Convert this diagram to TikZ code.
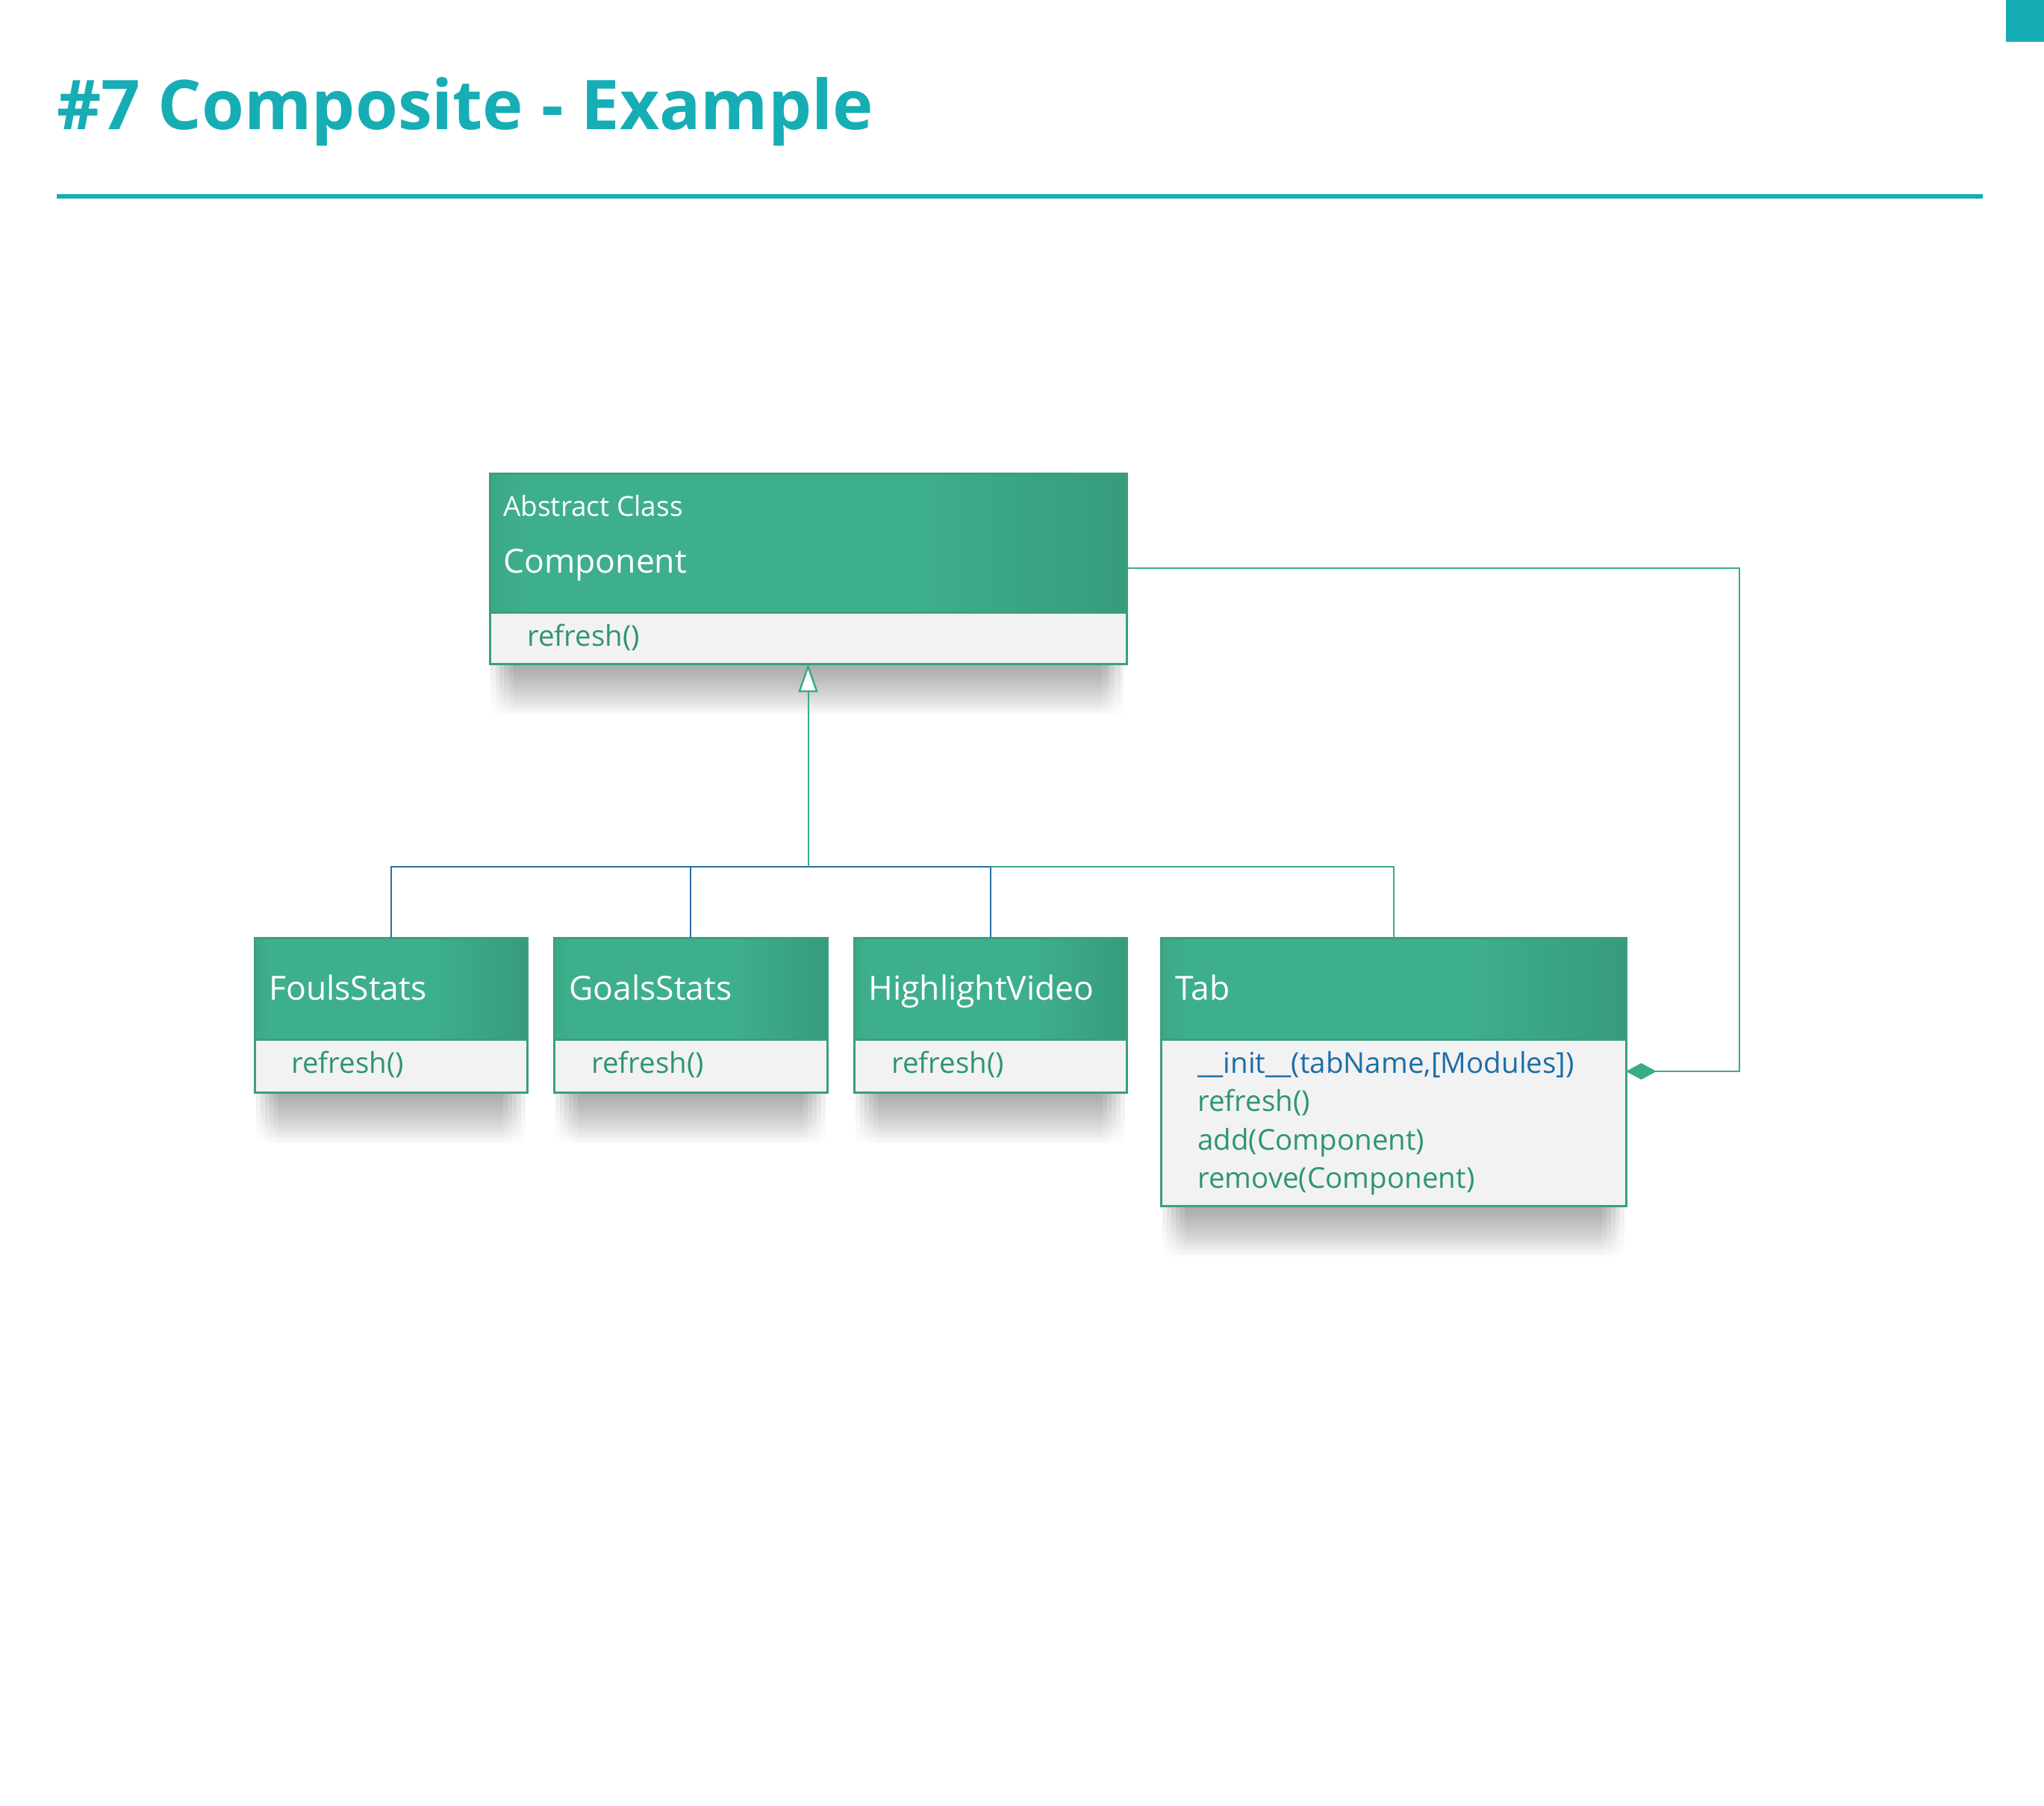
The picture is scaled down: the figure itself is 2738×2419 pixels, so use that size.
\documentclass[tikz,border=0pt]{standalone}
\usepackage{fontspec}
\setmainfont{Open Sans}
\usetikzlibrary{arrows.meta,calc,fadings}

\definecolor{titleteal}{HTML}{16ADB5}
\definecolor{headgreen}{HTML}{3EAF8C}
\definecolor{headedge}{HTML}{3BA886}
\definecolor{headdark}{HTML}{369B7C}
\definecolor{boxline}{HTML}{3A9F80}
\definecolor{bodygray}{HTML}{F2F2F2}
\definecolor{methgreen}{HTML}{2D9573}
\definecolor{methblue}{HTML}{1B6EA8}
\definecolor{linkgreen}{HTML}{3AAB88}
\definecolor{linkblue}{HTML}{2A6DA6}
\definecolor{shadowgray}{HTML}{5A5A5A}

% header fill: flat green, gently darker towards the right edge
% (the filled path spans 25bp..75bp of the shading)
\pgfdeclarehorizontalshading{headshade}{100bp}{%
  color(0bp)=(headedge); color(25bp)=(headedge); color(28bp)=(headgreen);
  color(58bp)=(headgreen); color(75bp)=(headdark); color(100bp)=(headdark)}

% vertical fade used for the soft drop shadows under the class boxes
\tikzfading[name=shadowfade, top color=transparent!15, bottom color=transparent!100]

% soft shadow under a box: left x, right x, bottom y
\newcommand\dropshadow[3]{%
  \foreach \k in {0,...,5}{%
    \fill[shadowgray, opacity=0.13, path fading=shadowfade]
      ({#1+2+\k*6},#3) rectangle ({#2-2-\k*6},{#3+68});
  }%
}

\tikzset{
  classhead/.style={rectangle, anchor=north west, inner sep=0pt, outer sep=0pt,
    draw=boxline, line width=3pt, shading=headshade},
  classbody/.style={rectangle, anchor=north west, inner sep=0pt, outer sep=0pt,
    draw=boxline, line width=3pt, fill=bodygray},
  classname/.style={anchor=base west, inner sep=0pt, text=white,
    font=\fontsize{44.5}{54}\selectfont},
  stereotype/.style={anchor=base west, inner sep=0pt, text=white,
    font=\fontsize{37}{44}\selectfont},
  method/.style={anchor=base west, inner sep=0pt, text=methgreen,
    font=\fontsize{38.5}{47}\selectfont},
  greenlink/.style={draw=linkgreen, line width=2pt},
  bluelink/.style={draw=linkblue, line width=2pt},
}

\begin{document}
\begin{tikzpicture}[x=1pt,y=-1pt]
\useasboundingbox (0,0) rectangle (2738,2419);
\fill[white] (0,0) rectangle (2738,2419);

% heading
\node[anchor=base west, inner sep=0pt, text=titleteal,
      font=\fontsize{92}{110}\selectfont\bfseries] (title) at (76,174) {\#7 Composite - Example};
\draw[titleteal, line width=6pt] (76,263) -- (2656,263);
\fill[titleteal] (2687,0) rectangle (2738,56);

% shadows
\dropshadow{656}{1509}{889}
\dropshadow{341}{706}{1463}
\dropshadow{742}{1108}{1463}
\dropshadow{1144}{1509}{1463}
\dropshadow{1555}{2178}{1615}

% Component
\node[classhead, minimum width=853pt, minimum height=186pt] (comp-head) at (656,634) {};
\node[classbody, minimum width=853pt, minimum height=69pt] (comp-body) at (656,820) {};
\node[stereotype] (comp-stereo) at (674,691) {Abstract Class};
\node[classname] (comp-name) at (674,767) {Component};
\node[method] (comp-m1) at (706,865) {refresh()};

% FoulsStats
\node[classhead, minimum width=365pt, minimum height=136pt] (fouls-head) at (341,1256) {};
\node[classbody, minimum width=365pt, minimum height=71pt] (fouls-body) at (341,1392) {};
\node[classname] (fouls-name) at (360,1339) {FoulsStats};
\node[method] (fouls-m1) at (390,1437) {refresh()};

% GoalsStats
\node[classhead, minimum width=366pt, minimum height=136pt] (goals-head) at (742,1256) {};
\node[classbody, minimum width=366pt, minimum height=71pt] (goals-body) at (742,1392) {};
\node[classname] (goals-name) at (762,1339) {GoalsStats};
\node[method] (goals-m1) at (792,1437) {refresh()};

% HighlightVideo
\node[classhead, minimum width=365pt, minimum height=136pt] (hl-head) at (1144,1256) {};
\node[classbody, minimum width=365pt, minimum height=71pt] (hl-body) at (1144,1392) {};
\node[classname] (hl-name) at (1163,1339) {HighlightVideo};
\node[method] (hl-m1) at (1194,1437) {refresh()};

% Tab
\node[classhead, minimum width=623pt, minimum height=136pt] (tab-head) at (1555,1256) {};
\node[classbody, minimum width=623pt, minimum height=223pt] (tab-body) at (1555,1392) {};
\node[classname] (tab-name) at (1574,1339) {Tab};
\node[method, text=methblue] (tab-m1) at (1604,1437) {\_\_init\_\_(tabName,[Modules])};
\node[method] (tab-m2) at (1604,1488) {refresh()};
\node[method] (tab-m3) at (1604,1540) {add(Component)};
\node[method] (tab-m4) at (1604,1591) {remove(Component)};

% connectors
\coordinate (bus) at (0,1161);
\coordinate (loop) at (2330,0);
\coordinate (comp-out) at ($(comp-head.north east)+(0,127)$);
\coordinate (tab-in) at ($(tab-body.north east)+(0,43)$);

\draw[bluelink] (fouls-head.north) -- (fouls-head.north |- bus) -- (hl-head.north |- bus);
\draw[bluelink] (goals-head.north) -- (goals-head.north |- bus);
\draw[bluelink] (hl-head.north) -- (hl-head.north |- bus);
\draw[greenlink] (hl-head.north |- bus) -- (tab-head.north |- bus) -- (tab-head.north);
\draw[greenlink, -{Triangle[length=38pt, width=26pt, fill=white, line width=2.5pt]}]
  (comp-body.south |- bus) -- (comp-body.south);
\draw[greenlink, {Diamond[length=41pt, width=22pt, fill=linkgreen]}-]
  (tab-in) -- (loop |- tab-in) -- (loop |- comp-out) -- (comp-out);
\end{tikzpicture}
\end{document}
